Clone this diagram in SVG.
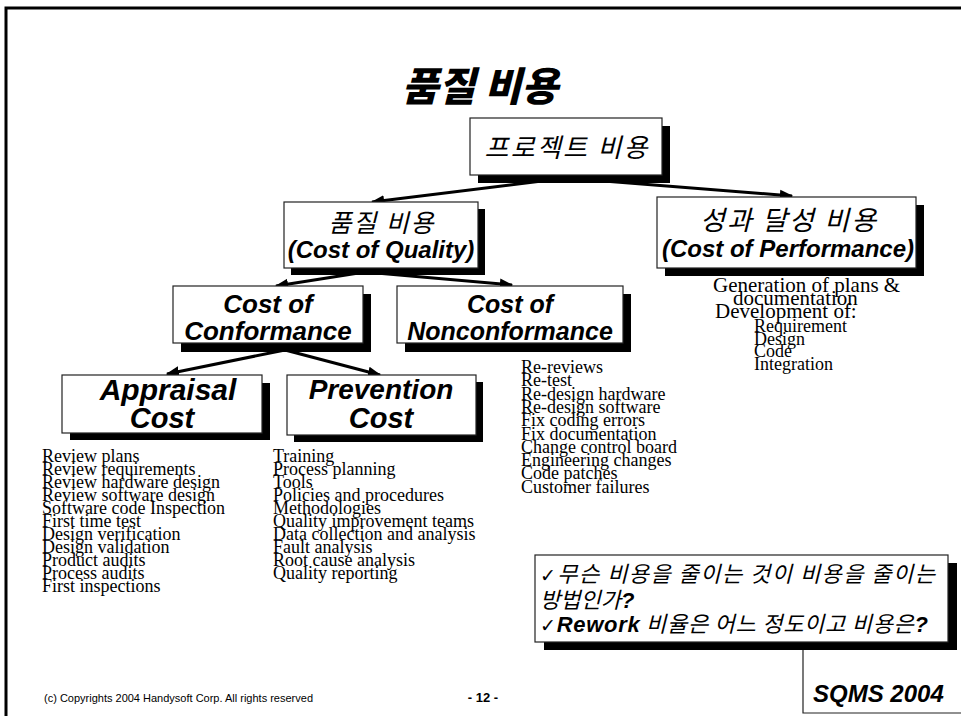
<svg xmlns="http://www.w3.org/2000/svg" width="961" height="716" viewBox="0 0 961 716">
<defs>
<style>
.box{fill:#fff;stroke:#222;stroke-width:1.2}
.sh{fill:#000}
.ko{font-family:"Noto Sans CJK KR",sans-serif;font-style:italic;fill:#000}
.en{font-family:"Liberation Sans",Arial,sans-serif;font-weight:bold;font-style:italic;fill:#000}
.ls{font-family:"Liberation Serif","Times New Roman",serif;font-size:18px;fill:#000}
.lb{font-size:21px}
.ck{font-family:"DejaVu Sans",sans-serif;font-style:normal;font-size:19px}
.bq{font-family:"Liberation Sans",Arial,sans-serif;font-weight:bold}
.con{stroke:#000;stroke-width:3;fill:none;marker-end:url(#ah)}
</style>
<marker id="ah" viewBox="0 0 10 10" refX="9" refY="5" markerWidth="4.5" markerHeight="4.5" markerUnits="strokeWidth" orient="auto">
<path d="M0,1 L10,5 L0,9 z" fill="#000"/>
</marker>
</defs>
<rect width="961" height="716" fill="#fff"/>
<path d="M6,716 V8 H961" stroke="#000" stroke-width="3" fill="none"/>

<g id="title"><text x="480" y="101" text-anchor="middle" font-family="'Noto Sans CJK KR',sans-serif" font-weight="900" font-style="italic" font-size="40">품질 비용</text></g>

<g id="connectors">
<line class="con" x1="566" y1="178" x2="372" y2="202"/>
<line class="con" x1="566" y1="178" x2="792" y2="196"/>
<line class="con" x1="365" y1="272" x2="276" y2="286"/>
<line class="con" x1="365" y1="272" x2="512" y2="285"/>
<line class="con" x1="285" y1="350" x2="167" y2="374"/>
<line class="con" x1="285" y1="350" x2="380" y2="375"/>
</g>

<g id="project-cost">
<rect class="sh" x="478" y="126" width="192" height="57"/>
<rect class="box" x="470" y="118" width="192" height="57"/>
<text class="ko" x="566" y="157" text-anchor="middle" font-size="26" textLength="163">프로젝트 비용</text>
</g>

<g id="cost-of-quality">
<rect class="sh" x="291" y="209" width="194" height="66"/>
<rect class="box" x="284" y="202" width="194" height="66"/>
<text class="ko" x="381" y="232" text-anchor="middle" font-size="25" textLength="105">품질 비용</text>
<text class="en" x="381" y="258" text-anchor="middle" font-size="24">(Cost of Quality)</text>
</g>

<g id="cost-of-performance">
<rect class="sh" x="665" y="205" width="259" height="71"/>
<rect class="box" x="657" y="197" width="259" height="71"/>
<text class="ko" x="788" y="230" text-anchor="middle" font-size="27" textLength="176">성과 달성 비용</text>
<text class="en" x="788" y="257" text-anchor="middle" font-size="24">(Cost of Performance)</text>
</g>

<g id="conformance">
<rect class="sh" x="181" y="294" width="190" height="58"/>
<rect class="box" x="173" y="286" width="190" height="57"/>
<text class="en" x="268" y="313" text-anchor="middle" font-size="26">Cost of</text>
<text class="en" x="268" y="340" text-anchor="middle" font-size="26">Conformance</text>
</g>

<g id="nonconformance">
<rect class="sh" x="405" y="294" width="226" height="58"/>
<rect class="box" x="397" y="286" width="226" height="57"/>
<text class="en" x="510" y="313" text-anchor="middle" font-size="25">Cost of</text>
<text class="en" x="510" y="340" text-anchor="middle" font-size="25">Nonconformance</text>
</g>

<g id="appraisal">
<rect class="sh" x="70" y="383" width="200" height="57"/>
<rect class="box" x="62" y="375" width="200" height="58"/>
<text class="en" x="168" y="400" text-anchor="middle" font-size="30">Appraisal</text>
<text class="en" x="162" y="428" text-anchor="middle" font-size="29">Cost</text>
</g>

<g id="prevention">
<rect class="sh" x="294" y="382" width="189" height="60"/>
<rect class="box" x="287" y="375" width="189" height="60"/>
<text class="en" x="381" y="399" text-anchor="middle" font-size="28">Prevention</text>
<text class="en" x="381" y="428" text-anchor="middle" font-size="29">Cost</text>
</g>

<g id="appraisal-list">
<text class="ls">
<tspan x="42" y="462">Review plans</tspan>
<tspan x="42" dy="13">Review requirements</tspan>
<tspan x="42" dy="13">Review hardware design</tspan>
<tspan x="42" dy="13">Review software design</tspan>
<tspan x="42" dy="13">Software code Inspection</tspan>
<tspan x="42" dy="13">First time test</tspan>
<tspan x="42" dy="13">Design verification</tspan>
<tspan x="42" dy="13">Design validation</tspan>
<tspan x="42" dy="13">Product audits</tspan>
<tspan x="42" dy="13">Process audits</tspan>
<tspan x="42" dy="13">First inspections</tspan>
</text>
</g>

<g id="prevention-list">
<text class="ls">
<tspan x="273" y="462">Training</tspan>
<tspan x="273" dy="13">Process planning</tspan>
<tspan x="273" dy="13">Tools</tspan>
<tspan x="273" dy="13">Policies and procedures</tspan>
<tspan x="273" dy="13">Methodologies</tspan>
<tspan x="273" dy="13">Quality improvement teams</tspan>
<tspan x="273" dy="13">Data collection and analysis</tspan>
<tspan x="273" dy="13">Fault analysis</tspan>
<tspan x="273" dy="13">Root cause analysis</tspan>
<tspan x="273" dy="13">Quality reporting</tspan>
</text>
</g>

<g id="nonconformance-list">
<text class="ls">
<tspan x="521" y="373">Re-reviews</tspan>
<tspan x="521" dy="13.3">Re-test</tspan>
<tspan x="521" dy="13.3">Re-design hardware</tspan>
<tspan x="521" dy="13.3">Re-design software</tspan>
<tspan x="521" dy="13.3">Fix coding errors</tspan>
<tspan x="521" dy="13.3">Fix documentation</tspan>
<tspan x="521" dy="13.3">Change control board</tspan>
<tspan x="521" dy="13.3">Engineering changes</tspan>
<tspan x="521" dy="13.3">Code patches</tspan>
<tspan x="521" dy="13.3">Customer failures</tspan>
</text>
</g>

<g id="performance-list">
<text class="ls lb" x="713" y="292">Generation of plans &amp;</text>
<text class="ls lb" x="733" y="305">documentation</text>
<text class="ls lb" x="715" y="318">Development of:</text>
<text class="ls" x="754" y="332">Requirement</text>
<text class="ls" x="754" y="345">Design</text>
<text class="ls" x="754" y="357">Code</text>
<text class="ls" x="754" y="370">Integration</text>
</g>

<g id="questions">
<rect class="sh" x="544" y="563" width="413" height="87"/>
<rect class="box" x="535" y="555" width="413" height="87"/>
<text class="ko" x="540" y="582" font-size="22" textLength="395"><tspan class="ck">✓</tspan>무슨 비용을 줄이는 것이 비용을 줄이는</text>
<text class="ko" x="540" y="608" font-size="22">방법인가<tspan class="bq">?</tspan></text>
<text class="ko" x="540" y="632" font-size="22" textLength="388"><tspan class="ck">✓</tspan><tspan class="bq">Rework</tspan> 비율은 어느 정도이고 비용은<tspan class="bq">?</tspan></text>
</g>

<g id="footer">
<path d="M803,650 V713 H961" stroke="#222" stroke-width="1.2" fill="none"/>
<text class="en" x="813" y="702" font-size="24">SQMS 2004</text>
<text x="44" y="702" font-family="'Liberation Sans',Arial,sans-serif" font-size="11" fill="#000">(c) Copyrights 2004 Handysoft Corp. All rights reserved</text>
<text x="483" y="702" text-anchor="middle" font-family="'Liberation Sans',Arial,sans-serif" font-weight="bold" font-size="13" fill="#000">- 12 -</text>
</g>
</svg>
